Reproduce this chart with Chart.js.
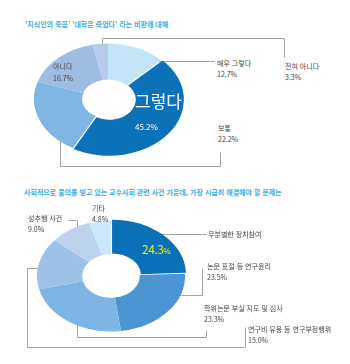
<!DOCTYPE html>
<html lang="ko">
<head>
<meta charset="utf-8">
<script src="https://cdn.jsdelivr.net/npm/chart.js@4/dist/chart.umd.min.js"></script>
<style>
  html, body { margin: 0; padding: 0; background: #fff; }
  #page { position: relative; width: 350px; height: 364px; overflow: hidden;
          font-family: "Noto Sans CJK KR", "Noto Sans", sans-serif; color: #444; }
  #page canvas { position: absolute; }
  .title { position: absolute; font-size: 7px; line-height: 10px; font-weight: bold;
           color: #3aaee2; white-space: nowrap; }
  .lbl { position: absolute; font-size: 7px; line-height: 11px; white-space: nowrap; }
  #leaders { position: absolute; left: 0; top: 0; }
</style>
</head>
<body>
<div id="page">
  <div class="title" style="left:25px; top:19px;">'지식인의 죽음' '대학은 죽었다' 라는 비판에 대해</div>
  <div class="title" style="left:24px; top:187px;">사회적으로 물의를 빚고 있는 교수사회 관련 사건 가운데, 가장 시급히 해결해야 할 문제는</div>

  <svg id="leaders" width="350" height="364"></svg>

  <canvas id="chartTop" width="180" height="180" style="left:18px; top:9px;"></canvas>
  <canvas id="chartBottom" width="180" height="180" style="left:21px; top:186px;"></canvas>

  <div id="labels"></div>
</div>

<script>
// ---------------------------------------------------------------------------
// Data
// ---------------------------------------------------------------------------
const topLabels = ["매우 그렇다", "그렇다", "보통", "아니다", "전혀 아니다"];
const topValues = [12.7, 45.2, 22.2, 16.7, 3.3];
const topColors = ["#c4e4f7", "#0b71b8", "#80b6e4", "#9dbde2", "#b8cbea"];
const topOffsets = [0, 5, 0, 0, 0];

const bottomLabels = [
  "무분별한 정치참여",
  "논문 표절 등 연구윤리",
  "학위논문 부실 지도 및 심사",
  "연구비 유용 등 연구부정행위",
  "성추행 사건",
  "기타",
];
const bottomValues = [24.3, 23.5, 23.3, 15.0, 9.0, 4.8];
const bottomColors = ["#0a70b8", "#4b95d3", "#7eb5e5", "#9dc1e7", "#bcd2ee", "#cbe8f8"];
const bottomOffsets = [6, 0, 0, 0, 0, 0];

// Squash factor for the tilted (elliptical) look of both rings
const TILT = 0.75;

// ---------------------------------------------------------------------------
// Label placement (page px): [dataIndex, left, top, withValue]
// ---------------------------------------------------------------------------
const topLabelPos = [
  [0, 217, 58, true],
  [4, 285, 61, true],
  [2, 218, 123, true],
  [3, 53, 60, true],
];
const bottomLabelPos = [
  [5, 92, 203, true],
  [4, 28, 213, true],
  [0, 208, 229, false],
  [1, 207, 261, true],
  [2, 204, 303, true],
  [3, 248, 324, true],
];

// Leader lines (page px)
const leaderLines = [
  [[102, 49], [102, 38], [284, 38], [284, 57]],
  [[132, 61], [214, 61]],
  [[60, 133], [60, 166], [220, 166], [220, 152]],
  [[68, 220], [77, 220], [77, 236]],
  [[153, 234], [206, 234]],
  [[157, 295], [202, 295], [202, 268]],
  [[77, 322], [77, 337], [206, 337], [206, 330]],
  [[45, 268], [27, 268], [27, 347], [245, 347], [245, 327]],
];

// ---------------------------------------------------------------------------
// Plugin: flattens the ring vertically around the chart centre
// ---------------------------------------------------------------------------
const tiltPlugin = {
  id: "tilt",
  beforeDatasetsDraw(chart) {
    const ctx = chart.ctx;
    const a = chart.chartArea;
    const cx = (a.left + a.right) / 2;
    const cy = (a.top + a.bottom) / 2;
    ctx.save();
    ctx.translate(cx, cy);
    ctx.scale(1, TILT);
    ctx.translate(-cx, -cy);
  },
  afterDatasetsDraw(chart) {
    chart.ctx.restore();
  },
};

const makeRing = (id, values, colors, offsets, cutout) =>
  new Chart(document.getElementById(id), {
    type: "doughnut",
    data: {
      labels: values.map((v, i) => i),
      datasets: [{
        data: values,
        backgroundColor: colors,
        borderWidth: 0,
        offset: offsets,
        hoverOffset: 0,
      }],
    },
    options: {
      responsive: false,
      animation: false,
      radius: 74,
      cutout: cutout,
      rotation: 0,
      events: [],
      plugins: { legend: { display: false }, tooltip: { enabled: false } },
    },
    plugins: [tiltPlugin],
  });

makeRing("chartTop", topValues, topColors, topOffsets, "35%");
makeRing("chartBottom", bottomValues, bottomColors, bottomOffsets, "39%");

// ---------------------------------------------------------------------------
// Leader lines
// ---------------------------------------------------------------------------
const svg = document.getElementById("leaders");
leaderLines.forEach((pts) => {
  const pl = document.createElementNS("http://www.w3.org/2000/svg", "polyline");
  pl.setAttribute("points", pts.map(([x, y]) => `${x + 0.5},${y + 0.5}`).join(" "));
  pl.setAttribute("fill", "none");
  pl.setAttribute("stroke", "#a3a3a3");
  pl.setAttribute("stroke-width", "1");
  svg.appendChild(pl);
});

// ---------------------------------------------------------------------------
// Text labels
// ---------------------------------------------------------------------------
const labelsEl = document.getElementById("labels");
const fmtPct = (v) => `${v.toFixed(1)}%`;

const addLabel = (html, left, top, style) => {
  const div = document.createElement("div");
  div.className = "lbl";
  div.style.left = `${left}px`;
  div.style.top = `${top}px`;
  if (style) Object.assign(div.style, style);
  div.innerHTML = html;
  labelsEl.appendChild(div);
};

topLabelPos.forEach(([i, left, top, withValue]) => {
  const text = withValue ? `${topLabels[i]}<br>${fmtPct(topValues[i])}` : topLabels[i];
  addLabel(text, left, top, i === 3 ? { lineHeight: "12px" } : null);
});
bottomLabelPos.forEach(([i, left, top, withValue]) => {
  const text = withValue ? `${bottomLabels[i]}<br>${fmtPct(bottomValues[i])}` : bottomLabels[i];
  addLabel(text, left, top);
});

// Big labels inside the highlighted slices
addLabel(topLabels[1], 135, 90, { fontSize: "17px", lineHeight: "22px", color: "#fff" });
addLabel(fmtPct(topValues[1]), 135, 121, { fontSize: "8px", lineHeight: "12px", color: "#fff" });
addLabel(
  `${bottomValues[0].toFixed(1)}<span style="font-size:8px">%</span>`,
  142, 241,
  { fontSize: "12px", lineHeight: "16px", color: "#f2ea1a", letterSpacing: "-0.5px" }
);
</script>
</body>
</html>
